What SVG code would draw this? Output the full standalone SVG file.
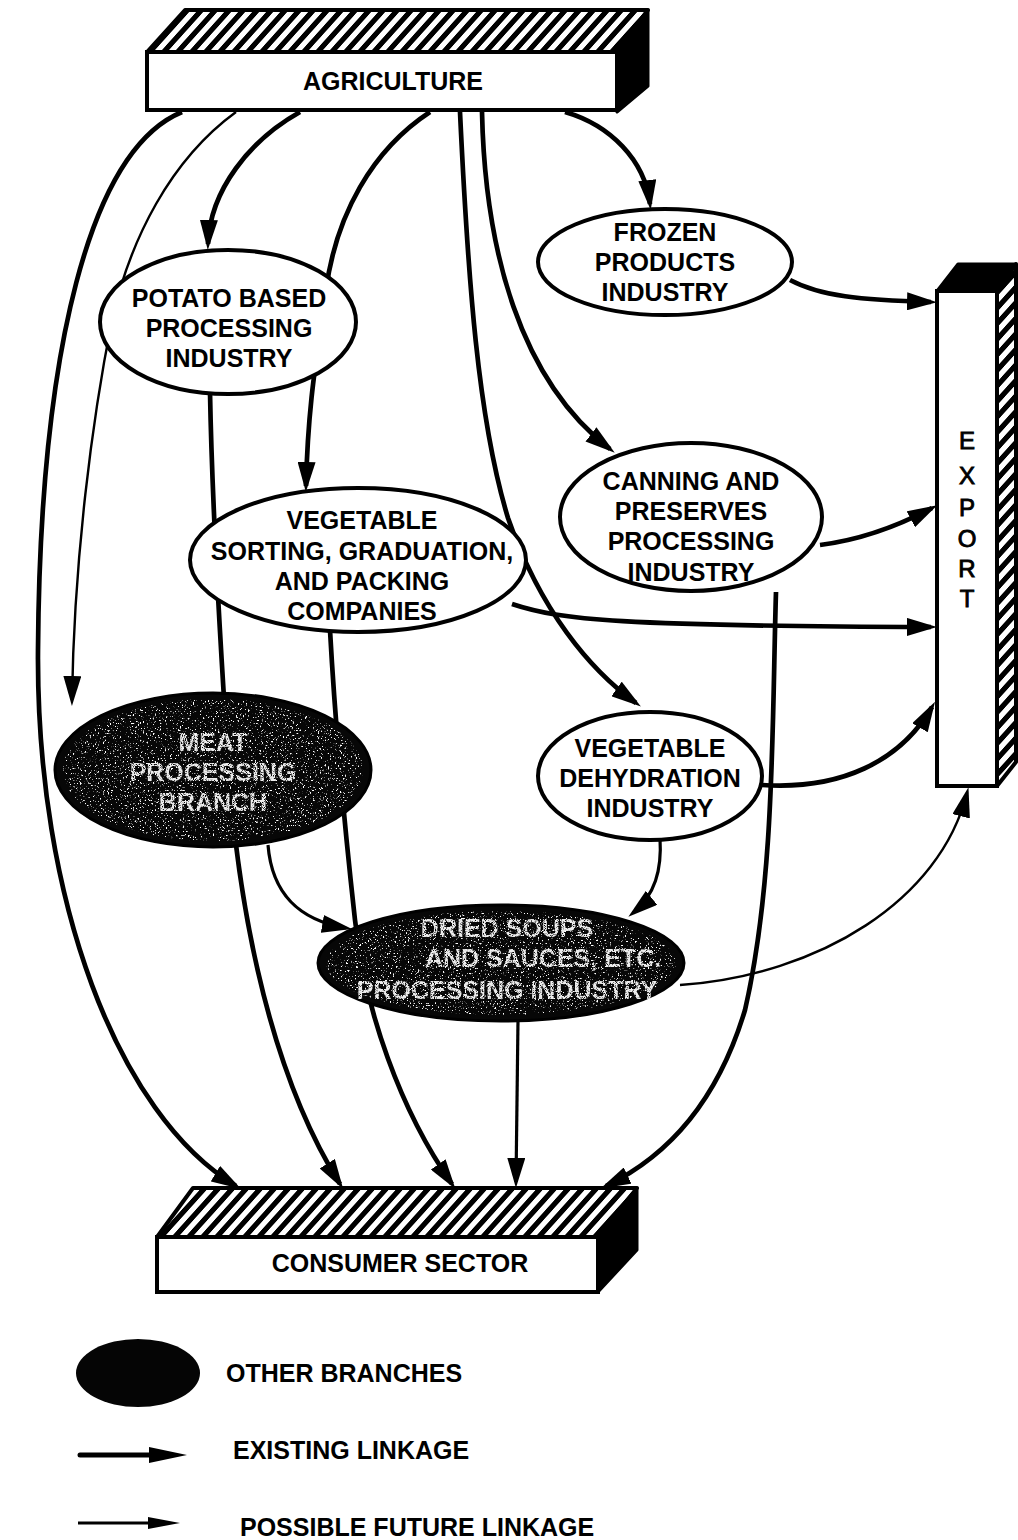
<svg xmlns="http://www.w3.org/2000/svg" width="1018" height="1540" viewBox="0 0 1018 1540">
  <style>
    .lbl { font-family: "Liberation Sans", Arial, sans-serif; font-weight: bold; font-size: 25px; text-anchor: middle; fill: #000; }
    .lbl-dark { font-family: "Liberation Sans", Arial, sans-serif; font-weight: bold; font-size: 25px; text-anchor: middle; fill: #ececec; }
    .node-shape { fill: #fff; stroke: #000; stroke-width: 4; }
    .dark-shape { fill: #070707; stroke: #000; stroke-width: 3; }
    .face-front { fill: #fff; stroke: #000; stroke-width: 4; }
    .face-hatch { fill: url(#hatch); stroke: #000; stroke-width: 4; stroke-linejoin: round; }
    .face-solid { fill: #000; stroke: #000; stroke-width: 3; stroke-linejoin: round; }
    .link { fill: none; stroke: #000; stroke-width: 4.7; marker-end: url(#arrow); }
    .link-mid { fill: none; stroke: #000; stroke-width: 3.2; marker-end: url(#arrow); }
    .link-future { fill: none; stroke: #000; stroke-width: 2.4; marker-end: url(#arrow); }
  </style>
  <defs>
    <pattern id="hatch" width="14" height="14" patternUnits="userSpaceOnUse" patternTransform="skewX(-42)">
      <rect width="14" height="14" fill="#000"/>
      <rect x="4" width="7" height="14" fill="#fff"/>
    </pattern>
    <marker id="arrow" markerUnits="userSpaceOnUse" markerWidth="30" markerHeight="18" viewBox="0 0 30 18" refX="24" refY="9" orient="auto">
      <path d="M0,0 L30,9 L0,18 z" fill="#000"/>
    </marker>
    <marker id="arrow-key" markerUnits="userSpaceOnUse" markerWidth="38" markerHeight="16" viewBox="0 0 38 16" refX="6" refY="8" orient="auto">
      <path d="M0,0 L38,8 L0,16 z" fill="#000"/>
    </marker>
    <marker id="arrow-key-thin" markerUnits="userSpaceOnUse" markerWidth="32" markerHeight="12" viewBox="0 0 32 12" refX="6" refY="6" orient="auto">
      <path d="M0,0 L32,6 L0,12 z" fill="#000"/>
    </marker>
    <!-- grey speckle sprinkled over the dark "other branch" ellipses -->
    <filter id="speckle" x="0" y="0" width="1" height="1">
      <feTurbulence type="fractalNoise" baseFrequency="0.6" numOctaves="3" seed="7" result="noise"/>
      <feColorMatrix in="noise" type="matrix" values="0 0 0 0 1  0 0 0 0 1  0 0 0 0 1  9 0 0 0 -5.6" result="specks"/>
      <feComposite in="specks" in2="SourceGraphic" operator="in"/>
    </filter>
    <!-- rough, broken-up lettering on the dark ellipses -->
    <filter id="grain" x="-5%" y="-20%" width="110%" height="140%">
      <feTurbulence type="fractalNoise" baseFrequency="1.1" numOctaves="1" seed="3" result="n"/>
      <feColorMatrix in="n" type="matrix" values="0 0 0 0 0  0 0 0 0 0  0 0 0 0 0  6 0 0 0 -1.9" result="mask"/>
      <feComposite in="SourceGraphic" in2="mask" operator="in"/>
    </filter>
  </defs>

  <!-- linkages (drawn first so the nodes sit on top of them) -->
  <g id="connectors">
    <path id="agri-consumer" class="link" d="M182 112 C90 150, 40 350, 38 650 C36 900, 118 1115, 236 1186"/>
    <path id="agri-meat" class="link-future" d="M236 112 C170 160, 130 240, 112 320 C92 420, 74 560, 72 700"/>
    <path id="agri-potato" class="link" d="M300 112 C250 140, 210 190, 208 244"/>
    <path id="agri-sorting" class="link" d="M430 112 C372 150, 336 215, 326 290 C318 350, 308 400, 306 486"/>
    <path id="potato-consumer" class="link" d="M210 392 C212 500, 220 640, 228 760 C236 880, 262 1060, 340 1184"/>
    <path id="sorting-consumer" class="link" d="M330 630 C335 720, 345 830, 355 920 C365 1010, 400 1110, 452 1184"/>
    <path id="meat-soups" class="link-mid" d="M268 845 C272 895, 300 920, 346 928"/>
    <path id="agri-dehydration" class="link" d="M460 112 C468 280, 478 420, 508 518 C540 610, 590 670, 636 703"/>
    <path id="agri-canning" class="link" d="M482 112 C485 250, 520 380, 610 449"/>
    <path id="agri-frozen" class="link" d="M565 112 C610 125, 645 160, 650 204"/>
    <path id="frozen-export" class="link" d="M790 280 C820 296, 860 300, 931 302"/>
    <path id="canning-export" class="link" d="M820 545 C860 540, 900 525, 932 508"/>
    <path id="sorting-export" class="link" d="M512 604 C560 620, 620 626, 931 627"/>
    <path id="dehydration-export" class="link" d="M762 785 C840 790, 900 762, 932 707"/>
    <path id="canning-consumer" class="link" d="M776 592 C772 720, 775 880, 745 1010 C715 1110, 660 1160, 606 1186"/>
    <path id="dehydration-soups" class="link-mid" d="M660 838 C662 870, 655 895, 633 913"/>
    <path id="soups-export" class="link-future" d="M680 985 C820 975, 940 900, 967 793"/>
    <path id="soups-consumer" class="link-mid" d="M518 1020 L516 1182"/>
  </g>

  <!-- AGRICULTURE block -->
  <g id="agriculture">
    <polygon class="face-hatch" points="147,52 185,10 648,10 617,52"/>
    <polygon class="face-solid" points="617,52 648,10 648,86 617,112"/>
    <rect class="face-front" x="147" y="52" width="470" height="58"/>
    <text class="lbl" x="393" y="90">AGRICULTURE</text>
  </g>

  <!-- EXPORT block -->
  <g id="export">
    <polygon class="face-solid" points="937,291 958,264 1016,264 997,291"/>
    <polygon class="face-hatch" points="997,291 1016,264 1016,762 997,786"/>
    <rect class="face-front" x="937" y="291" width="60" height="495"/>
    <g class="lbl" style="font-weight:normal;font-size:24px;stroke:#000;stroke-width:0.9">
      <text x="967" y="449">E</text>
      <text x="967" y="484">X</text>
      <text x="967" y="516">P</text>
      <text x="967" y="547">O</text>
      <text x="967" y="577">R</text>
      <text x="967" y="607">T</text>
    </g>
  </g>

  <!-- CONSUMER SECTOR block -->
  <g id="consumer-sector">
    <polygon class="face-hatch" points="157,1237 193,1188 637,1188 598,1237"/>
    <polygon class="face-solid" points="598,1237 637,1188 637,1250 598,1292"/>
    <rect class="face-front" x="157" y="1237" width="441" height="55"/>
    <text class="lbl" x="400" y="1272">CONSUMER SECTOR</text>
  </g>

  <g id="frozen-products">
    <ellipse class="node-shape" cx="665" cy="262" rx="127" ry="53"/>
    <text class="lbl" x="665" y="241">FROZEN</text>
    <text class="lbl" x="665" y="271">PRODUCTS</text>
    <text class="lbl" x="665" y="301">INDUSTRY</text>
  </g>

  <g id="potato-processing">
    <ellipse class="node-shape" cx="228" cy="322" rx="128" ry="72"/>
    <text class="lbl" x="229" y="307">POTATO BASED</text>
    <text class="lbl" x="229" y="337">PROCESSING</text>
    <text class="lbl" x="229" y="367">INDUSTRY</text>
  </g>

  <g id="vegetable-sorting">
    <ellipse class="node-shape" cx="358" cy="560" rx="168" ry="72"/>
    <text class="lbl" x="362" y="529">VEGETABLE</text>
    <text class="lbl" x="362" y="560">SORTING, GRADUATION,</text>
    <text class="lbl" x="362" y="590">AND PACKING</text>
    <text class="lbl" x="362" y="620">COMPANIES</text>
  </g>

  <g id="canning-preserves">
    <ellipse class="node-shape" cx="691" cy="517" rx="131" ry="74"/>
    <text class="lbl" x="691" y="490">CANNING AND</text>
    <text class="lbl" x="691" y="520">PRESERVES</text>
    <text class="lbl" x="691" y="550">PROCESSING</text>
    <text class="lbl" x="691" y="581">INDUSTRY</text>
  </g>

  <g id="vegetable-dehydration">
    <ellipse class="node-shape" cx="650" cy="776" rx="112" ry="64"/>
    <text class="lbl" x="650" y="757">VEGETABLE</text>
    <text class="lbl" x="650" y="787">DEHYDRATION</text>
    <text class="lbl" x="650" y="817">INDUSTRY</text>
  </g>

  <g id="meat-processing">
    <ellipse class="dark-shape" cx="213" cy="770" rx="158" ry="77"/>
    <ellipse cx="213" cy="770" rx="150" ry="71" fill="#fff" filter="url(#speckle)"/>
    <g filter="url(#grain)">
      <text class="lbl-dark" x="213" y="751">MEAT</text>
      <text class="lbl-dark" x="213" y="781">PROCESSING</text>
      <text class="lbl-dark" x="213" y="811">BRANCH</text>
    </g>
  </g>

  <g id="dried-soups">
    <ellipse class="dark-shape" cx="501" cy="963" rx="183" ry="58"/>
    <ellipse cx="501" cy="963" rx="175" ry="52" fill="#fff" filter="url(#speckle)"/>
    <g filter="url(#grain)">
      <text class="lbl-dark" x="507" y="937">DRIED SOUPS</text>
      <text class="lbl-dark" x="425" y="967" style="text-anchor:start">AND SAUCES, ETC.</text>
      <text class="lbl-dark" x="507" y="999">PROCESSING INDUSTRY</text>
    </g>
  </g>

  <!-- key -->
  <g id="legend">
    <ellipse cx="138" cy="1373" rx="62" ry="34" fill="#050505"/>
    <text class="lbl" x="226" y="1382" style="text-anchor:start">OTHER BRANCHES</text>
    <path d="M80 1455 L155 1455" fill="none" stroke="#000" stroke-width="5" stroke-linecap="round" marker-end="url(#arrow-key)"/>
    <text class="lbl" x="233" y="1459" style="text-anchor:start">EXISTING LINKAGE</text>
    <path d="M78 1523 L154 1523" fill="none" stroke="#000" stroke-width="3" marker-end="url(#arrow-key-thin)"/>
    <text class="lbl" x="240" y="1536" style="text-anchor:start">POSSIBLE FUTURE LINKAGE</text>
  </g>
</svg>
